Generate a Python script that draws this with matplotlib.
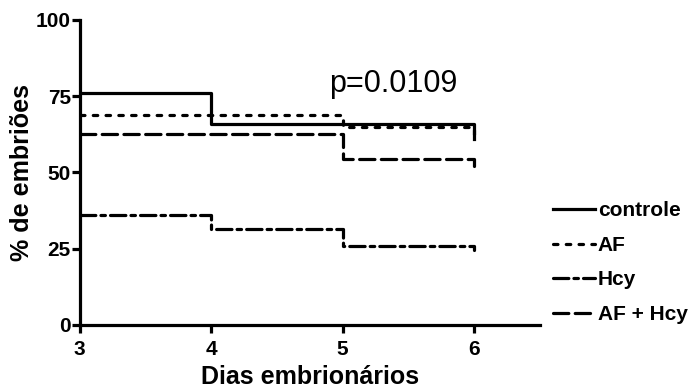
import numpy as np
import matplotlib.pyplot as plt

plt.rcParams['font.family'] = ['Liberation Sans', 'DejaVu Sans']

# days of follow-up; last value is the drop drawn at day 6
dias = [3, 4, 5, 6]
controle = [76, 66, 66, 61]
af = [69, 69, 65, 62]
hcy = [36, 31.5, 26, 24.5]
af_hcy = [62.5, 62.5, 54.5, 52]

labels = ['controle', 'AF', 'Hcy', 'AF + Hcy']
estilos = ['-', (0, (1.4, 2.6)), (0, (4.8, 1.6, 1.4, 1.6)), (0, (4.8, 2.0))]

fig = plt.figure(figsize=(7, 3.92), dpi=100)
ax = fig.add_axes([0.114, 0.171, 0.657, 0.778])

lw = 2.3
for serie, ls, lab in zip([controle, af, hcy, af_hcy], estilos, labels):
    ax.plot(dias, serie, drawstyle='steps-post', color='black', lw=lw,
            linestyle=ls, label=lab, dash_capstyle='round')

ax.set_xlim(3, 6.5)
ax.set_ylim(0, 100)
ax.set_xticks([3, 4, 5, 6])
ax.set_yticks([0, 25, 50, 75, 100])
for s in ['top', 'right']:
    ax.spines[s].set_visible(False)
for s in ['left', 'bottom']:
    ax.spines[s].set_linewidth(lw)
ax.tick_params(width=lw, length=5.5, labelsize=15, pad=1)
ax.tick_params(axis='x', pad=5)
for t in ax.get_xticklabels() + ax.get_yticklabels():
    t.set_fontweight('bold')

ax.set_xlabel('Dias embrionários', fontsize=18, fontweight='bold', labelpad=5)
ax.set_ylabel('% de embriões', fontsize=18, fontweight='bold', labelpad=1)

ax.text(4.9, 79, 'p=0.0109', fontsize=22, va='center')

fig.legend(loc='center left', bbox_to_anchor=(0.79, 0.33), frameon=False,
           prop={'weight': 'bold', 'size': 15}, handlelength=2.0,
           handletextpad=0.15, labelspacing=0.75, borderpad=0,
           borderaxespad=0)

fig.savefig('out.png', dpi=100)
